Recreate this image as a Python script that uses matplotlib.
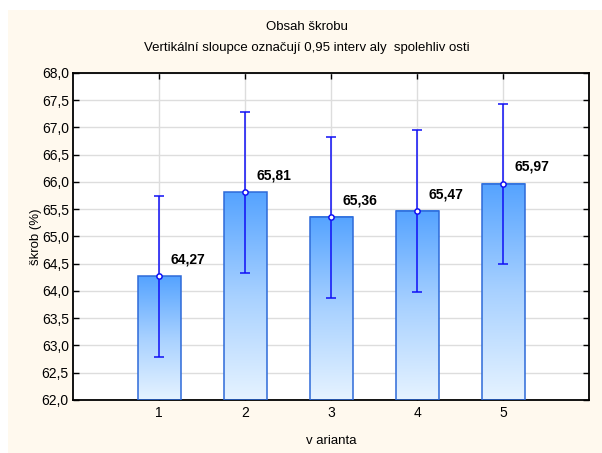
import numpy as np
import matplotlib.pyplot as plt
from matplotlib.colors import LinearSegmentedColormap
from matplotlib.patches import Rectangle
from matplotlib.ticker import FuncFormatter

plt.rcParams['font.family'] = ['Liberation Sans', 'DejaVu Sans']

varianty = [1, 2, 3, 4, 5]
prumer = [64.27, 65.81, 65.36, 65.47, 65.97]
horni = [65.74, 67.28, 66.83, 66.95, 67.44]
dolni = [62.79, 64.33, 63.88, 63.99, 64.49]
popisky = ["64,27", "65,81", "65,36", "65,47", "65,97"]

fig = plt.figure(figsize=(6.02, 4.53), dpi=100)
fig.patch.set_facecolor('white')
fig.patches.append(Rectangle((8 / 602, 0), 1, (453 - 10) / 453,
                             transform=fig.transFigure, facecolor='#FFF9EE',
                             edgecolor='none', zorder=-10))

ax = fig.add_axes([73 / 602, 53 / 453, 516 / 602, 327 / 453])
ax.set_facecolor('white')

# gradient bars
cmap = LinearSegmentedColormap.from_list('bar', ['#E6F3FF', '#A8D1FF', '#55A3FF'])
grad = np.linspace(0, 1, 256).reshape(-1, 1)
w = 0.5
for x, m in zip(varianty, prumer):
    ax.imshow(grad, extent=[x - w / 2, x + w / 2, 62, m], origin='lower',
              cmap=cmap, aspect='auto', zorder=2, vmin=0, vmax=1)
    ax.add_patch(Rectangle((x - w / 2, 62), w, m - 62, fill=False,
                           edgecolor='#2D6AD8', linewidth=1.1, zorder=3))

# confidence intervals
err = [np.array(prumer) - np.array(dolni), np.array(horni) - np.array(prumer)]
ax.errorbar(varianty, prumer, yerr=err, fmt='o', color='#1010F5', ecolor='#1010F5',
            elinewidth=1.1, capsize=3.8, capthick=1.1, markersize=3.8,
            markerfacecolor='white', markeredgewidth=1.1, zorder=4)

for x, m, t in zip(varianty, prumer, popisky):
    ax.annotate(t, (x, m), xytext=(8.5, 7), textcoords='offset points',
                fontsize=10, fontweight='bold', ha='left', va='bottom', zorder=5)

ax.set_xlim(0, 6)
ax.set_ylim(62, 68)
ax.set_xticks(varianty)
ax.set_yticks(np.arange(62, 68.01, 0.5))
ax.yaxis.set_major_formatter(FuncFormatter(lambda v, p: f"{v:.1f}".replace('.', ',')))
ax.grid(True, color='#DDDDDD', linewidth=1, zorder=0)
ax.set_axisbelow(True)
ax.tick_params(direction='in', top=True, right=True, length=4, width=1,
               labelsize=10, pad=4)
ax.tick_params(axis='y', pad=3)
for s in ax.spines.values():
    s.set_linewidth(1.3)
    s.set_color('black')

ax.set_xlabel("v arianta", fontsize=9.5, labelpad=11)
ax.set_ylabel("škrob (%)", fontsize=9.5, labelpad=0)

fig.text(307 / 602, 1 - 27 / 453, "Obsah škrobu", ha='center', va='center', fontsize=9.5)
fig.text(307 / 602, 1 - 48 / 453, "Vertikální sloupce označují 0,95 interv aly  spolehliv osti",
         ha='center', va='center', fontsize=9.5)

fig.savefig('out.png', dpi=100, facecolor=fig.get_facecolor())
